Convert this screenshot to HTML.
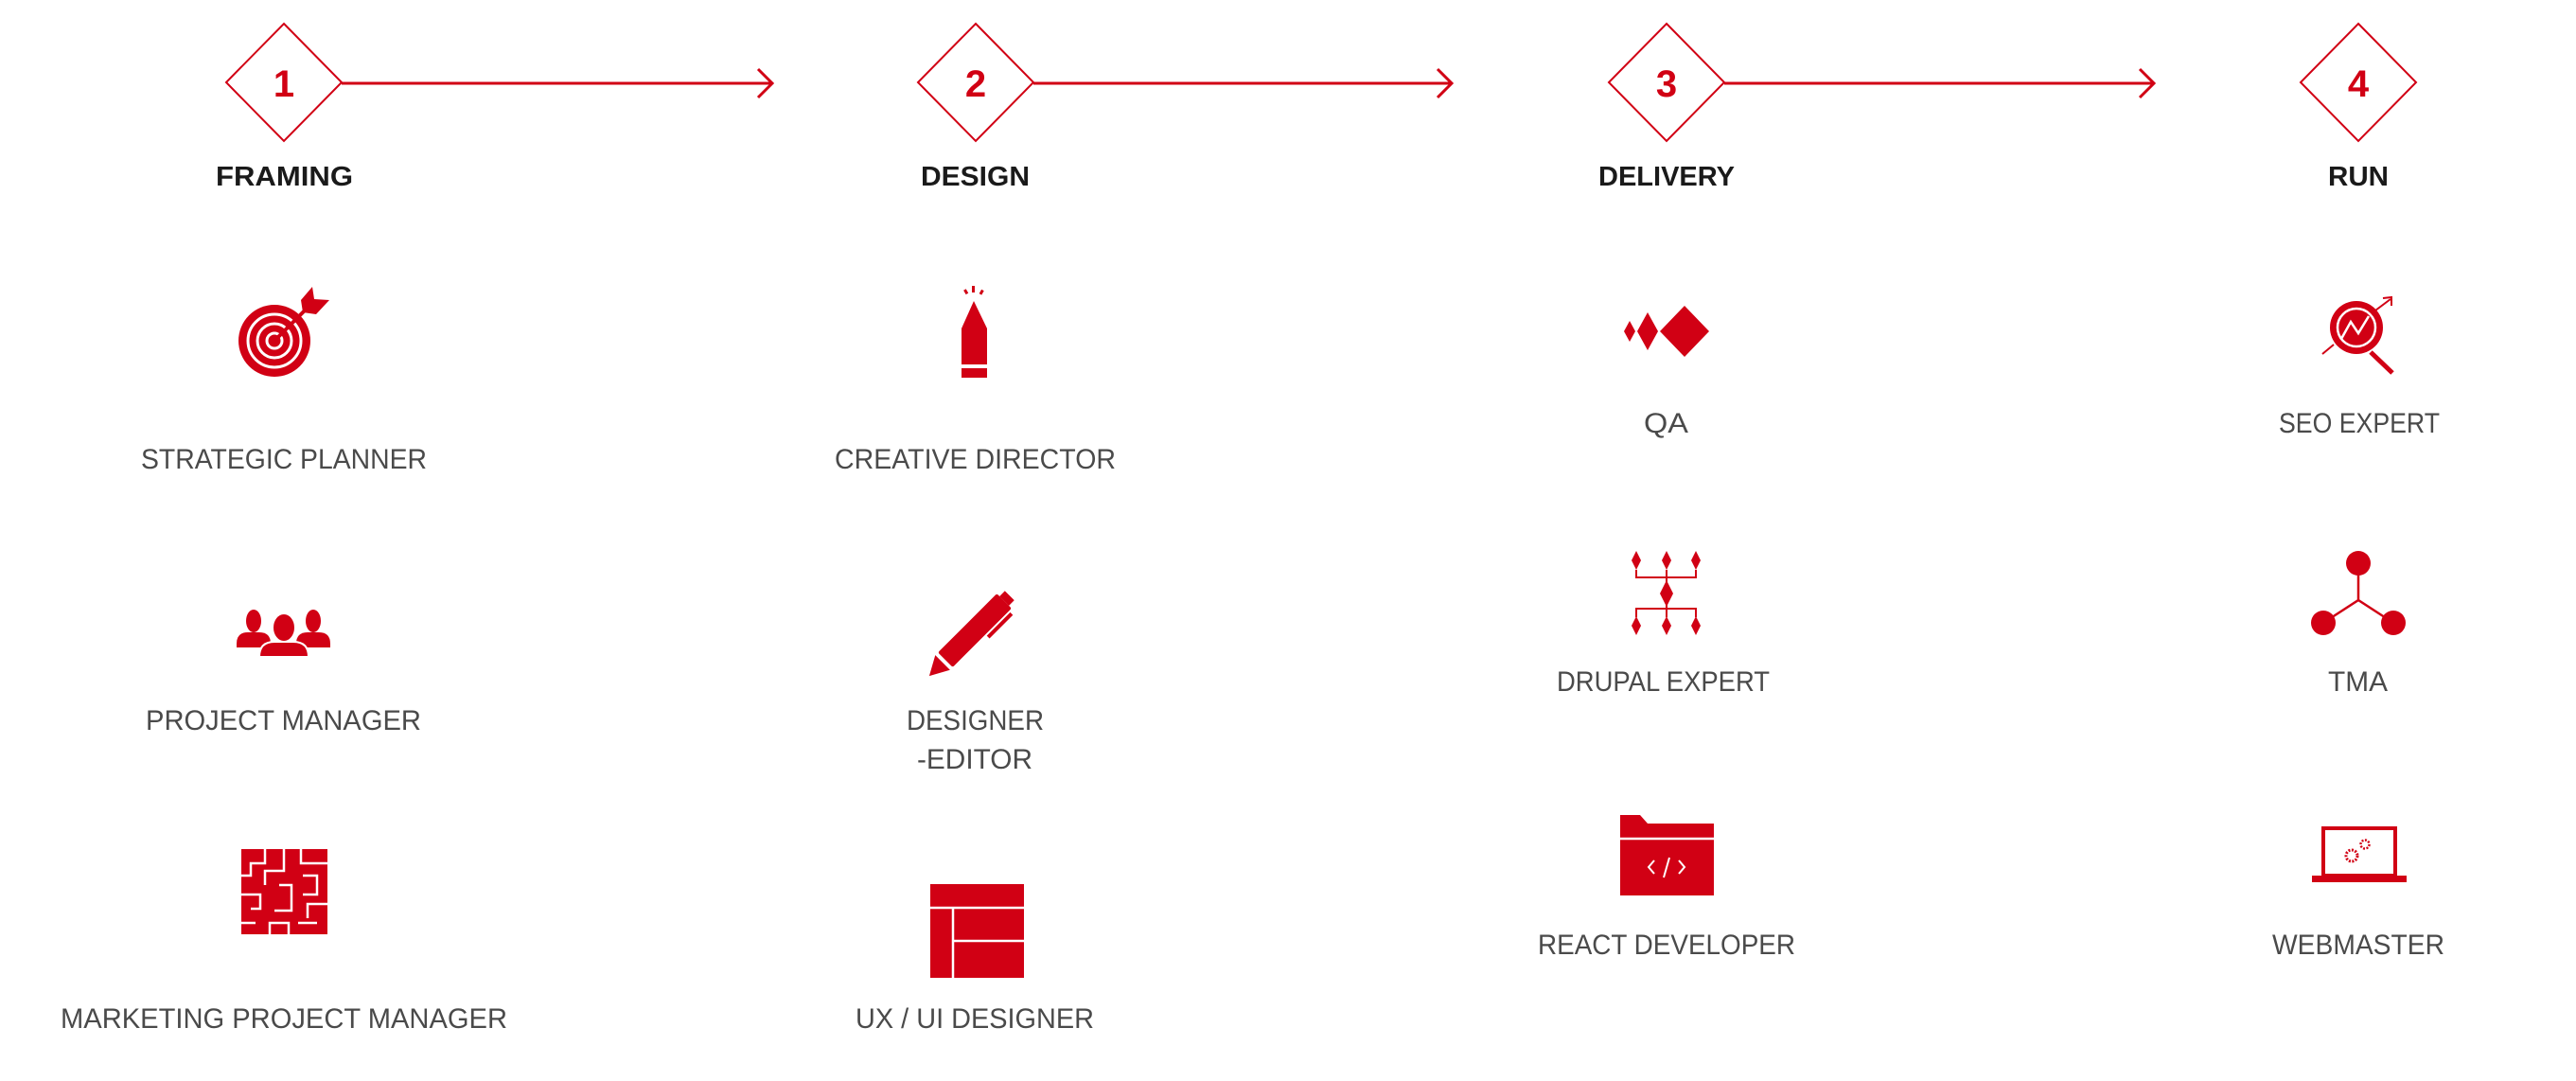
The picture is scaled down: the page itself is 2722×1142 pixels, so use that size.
<!DOCTYPE html>
<html><head><meta charset="utf-8"><style>
html,body{margin:0;padding:0;background:#fff;}
svg{display:block;}
.ph{font-family:"Liberation Sans",sans-serif;font-weight:bold;font-size:29px;fill:#1a1a1a;}
.rl{font-family:"Liberation Sans",sans-serif;font-size:30px;fill:#4a4a4a;}
.num{font-family:"Liberation Sans",sans-serif;font-weight:bold;font-size:40px;fill:#d10014;}
</style></head><body>
<svg width="2722" height="1142" viewBox="0 0 2722 1142" xmlns="http://www.w3.org/2000/svg">
<g fill="none" stroke="#d10014">
<polygon points="300,25 361,87 300,149 239,87" stroke-width="2"/>
<polygon points="1031,25 1092,87 1031,149 970,87" stroke-width="2"/>
<polygon points="1761,25 1822,87 1761,149 1700,87" stroke-width="2"/>
<polygon points="2492,25 2553,87 2492,149 2431,87" stroke-width="2"/>
<line x1="361" y1="88" x2="816" y2="88" stroke-width="3"/>
<polyline points="801,73 816,88 801,103" stroke-width="3"/>
<line x1="1092" y1="88" x2="1534" y2="88" stroke-width="3"/>
<polyline points="1519,73 1534,88 1519,103" stroke-width="3"/>
<line x1="1822" y1="88" x2="2276" y2="88" stroke-width="3"/>
<polyline points="2261,73 2276,88 2261,103" stroke-width="3"/>
</g>
<text class="num" x="300" y="102" text-anchor="middle">1</text>
<text class="num" x="1031" y="102" text-anchor="middle">2</text>
<text class="num" x="1761" y="102" text-anchor="middle">3</text>
<text class="num" x="2492" y="102" text-anchor="middle">4</text>

<text class="ph" x="228" y="196" textLength="145" lengthAdjust="spacingAndGlyphs">FRAMING</text>
<text class="ph" x="973" y="196" textLength="115" lengthAdjust="spacingAndGlyphs">DESIGN</text>
<text class="ph" x="1689" y="196" textLength="144" lengthAdjust="spacingAndGlyphs">DELIVERY</text>
<text class="ph" x="2460" y="196" textLength="64" lengthAdjust="spacingAndGlyphs">RUN</text>

<text class="rl" x="149" y="495" textLength="302" lengthAdjust="spacingAndGlyphs">STRATEGIC PLANNER</text>
<text class="rl" x="154" y="771" textLength="291" lengthAdjust="spacingAndGlyphs">PROJECT MANAGER</text>
<text class="rl" x="64" y="1086" textLength="472" lengthAdjust="spacingAndGlyphs">MARKETING PROJECT MANAGER</text>
<text class="rl" x="882" y="495" textLength="297" lengthAdjust="spacingAndGlyphs">CREATIVE DIRECTOR</text>
<text class="rl" x="958" y="771" textLength="145" lengthAdjust="spacingAndGlyphs">DESIGNER</text>
<text class="rl" x="969" y="812" textLength="122" lengthAdjust="spacingAndGlyphs">-EDITOR</text>
<text class="rl" x="904" y="1086" textLength="252" lengthAdjust="spacingAndGlyphs">UX / UI DESIGNER</text>
<text class="rl" x="1737" y="457" textLength="47" lengthAdjust="spacingAndGlyphs">QA</text>
<text class="rl" x="1645" y="730" textLength="225" lengthAdjust="spacingAndGlyphs">DRUPAL EXPERT</text>
<text class="rl" x="1625" y="1008" textLength="272" lengthAdjust="spacingAndGlyphs">REACT DEVELOPER</text>
<text class="rl" x="2408" y="457" textLength="170" lengthAdjust="spacingAndGlyphs">SEO EXPERT</text>
<text class="rl" x="2460" y="730" textLength="63" lengthAdjust="spacingAndGlyphs">TMA</text>
<text class="rl" x="2401" y="1008" textLength="182" lengthAdjust="spacingAndGlyphs">WEBMASTER</text>

<g fill="#d10014">
<circle cx="290" cy="360" r="38"/>
<g fill="none" stroke="#fff" stroke-width="3">
<circle cx="290" cy="360" r="28"/>
<circle cx="290" cy="360" r="18"/>
<circle cx="290" cy="360" r="8"/>
</g>
<line x1="292" y1="358" x2="325" y2="325" stroke="#d10014" stroke-width="4"/>
<polygon points="318,317 330,303 332,316 348,317 334,332 320,330"/>
<rect x="1016" y="347" width="27" height="38"/>
<rect x="1016" y="389" width="27" height="10"/>
<polygon points="1016,347 1029,318 1043,347"/>
<rect x="1027" y="302" width="3" height="7"/>
<rect x="1019" y="306" width="3" height="5" transform="rotate(-30 1020 308)"/>
<rect x="1036" y="306" width="3" height="5" transform="rotate(30 1037 308)"/>
<g transform="translate(0,4)">
<ellipse cx="268" cy="652" rx="8" ry="12"/>
<path d="M250 676 Q250 664 262 664 L274 664 Q286 664 286 676 L286 680 L250 680Z"/>
<ellipse cx="331" cy="652" rx="8" ry="12"/>
<path d="M313 676 Q313 664 325 664 L337 664 Q349 664 349 676 L349 680 L313 680Z"/>
<ellipse cx="300" cy="659" rx="12" ry="15" stroke="#fff" stroke-width="2"/>
<path d="M274 690 Q274 674 290 674 L310 674 Q326 674 326 690Z" stroke="#fff" stroke-width="2"/>
</g>
<g transform="rotate(-45 1030 666)">
<rect x="986" y="655" width="88" height="22" rx="2"/>
<rect x="1074" y="659" width="8" height="14"/>
<polygon points="962,666 982,655 982,677"/>
<rect x="1035" y="679" width="35" height="4"/>
</g>
<rect x="255" y="897" width="91" height="90"/>
<g stroke="#fff" stroke-width="2.5" fill="none">
<polyline points="280,897 280,912 265,912 265,925 255,925"/>
<polyline points="300,897 300,920 280,920 280,935"/>
<polyline points="318,897 318,912 346,912"/>
<polyline points="255,945 275,945 275,960 265,960"/>
<polyline points="295,935 308,935 308,962 290,962"/>
<polyline points="320,925 335,925 335,945 320,945"/>
<polyline points="346,955 325,955 325,970"/>
<polyline points="255,975 270,975"/>
<polyline points="285,987 285,975 305,975 305,987"/>
<polyline points="315,975 335,975"/>
</g>
<rect x="983" y="934" width="99" height="99"/>
<g stroke="#fff" stroke-width="2.5">
<line x1="983" y1="959" x2="1082" y2="959"/>
<line x1="1007" y1="959" x2="1007" y2="1033"/>
<line x1="1007" y1="994" x2="1082" y2="994"/>
</g>
<polygon points="1722,339 1728,350 1722,361 1716,350"/>
<polygon points="1741,330 1752,350 1741,370 1730,350"/>
<polygon points="1780,323 1806,350 1780,377 1754,350"/>
<line x1="2505" y1="372" x2="2528" y2="394" stroke="#d10014" stroke-width="5"/>
<circle cx="2490" cy="346" r="28"/>
<circle cx="2490" cy="346" r="20" fill="none" stroke="#fff" stroke-width="2.5"/>
<polyline points="2474,358 2484,340 2492,352 2503,334" fill="none" stroke="#fff" stroke-width="2.5"/>
<line x1="2466" y1="364" x2="2454" y2="374" stroke="#d10014" stroke-width="2"/>
<line x1="2510" y1="328" x2="2526" y2="316" stroke="#d10014" stroke-width="2"/>
<polyline points="2518,315 2527,314 2527,323" fill="none" stroke="#d10014" stroke-width="2"/>
<g transform="translate(0,2)">
<polygon points="1729,580 1734,590 1729,600 1724,590"/>
<polygon points="1761,580 1766,590 1761,600 1756,590"/>
<polygon points="1792,580 1797,590 1792,600 1787,590"/>
<polyline points="1729,600 1729,608 1792,608 1792,600" fill="none" stroke="#d10014" stroke-width="2"/>
<line x1="1761" y1="600" x2="1761" y2="650" stroke="#d10014" stroke-width="2"/>
<polygon points="1761,611 1768,625 1761,639 1754,625"/>
<polyline points="1729,650 1729,641 1792,641 1792,650" fill="none" stroke="#d10014" stroke-width="2"/>
<polygon points="1729,649 1734,659 1729,669 1724,659"/>
<polygon points="1761,649 1766,659 1761,669 1756,659"/>
<polygon points="1792,649 1797,659 1792,669 1787,659"/>
</g>
<g transform="translate(0,2)">
<polyline points="2492,593 2492,632 2455,656" fill="none" stroke="#d10014" stroke-width="2.5"/>
<line x1="2492" y1="632" x2="2529" y2="656" stroke="#d10014" stroke-width="2.5"/>
<circle cx="2492" cy="593" r="13"/>
<circle cx="2455" cy="656" r="13"/>
<circle cx="2529" cy="656" r="13"/>
</g>
<path d="M1712 861 L1733 861 L1741 870 L1811 870 L1811 946 L1712 946Z"/>
<line x1="1712" y1="886" x2="1811" y2="886" stroke="#fff" stroke-width="2.5"/>
<g fill="none" stroke="#fff" stroke-width="2">
<polyline points="1748,909 1742,916 1748,923"/>
<polyline points="1774,909 1780,916 1774,923"/>
<line x1="1764" y1="906" x2="1758" y2="927"/>
</g>
<rect x="2455" y="875" width="76" height="50" fill="none" stroke="#d10014" stroke-width="4"/>
<rect x="2443" y="925" width="100" height="7"/>
<circle cx="2485" cy="904" r="6" fill="none" stroke="#d10014" stroke-width="3" stroke-dasharray="2 1.5"/>
<circle cx="2499" cy="892" r="4.5" fill="none" stroke="#d10014" stroke-width="2.5" stroke-dasharray="2 1.5"/>
</g>
</svg>
</body></html>
